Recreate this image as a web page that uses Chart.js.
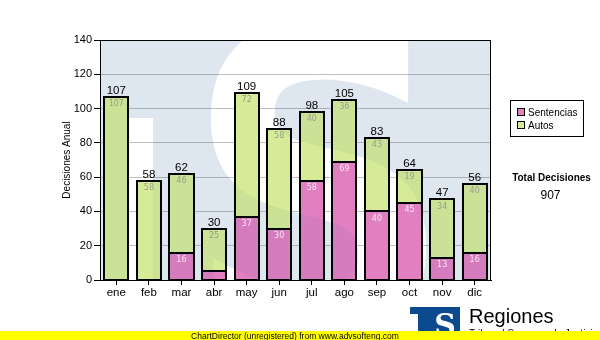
<!DOCTYPE html>
<html>
<head>
<meta charset="utf-8">
<script src="https://cdn.jsdelivr.net/npm/chart.js@4"></script>
<style>
  body { margin: 0; background: #fff; }
  #caja { position: relative; width: 600px; height: 340px; }
</style>
</head>
<body>
<div id="caja"><canvas id="grafDecisiones"></canvas></div>
<script>
// datos por mes
const meses = ['ene', 'feb', 'mar', 'abr', 'may', 'jun', 'jul', 'ago', 'sep', 'oct', 'nov', 'dic'];
const sentencias = [0, 0, 16, 5, 37, 30, 58, 69, 40, 45, 13, 16];
const autos = [107, 58, 46, 25, 72, 58, 40, 36, 43, 19, 34, 40];
const ejeMax = 140;
const ejePaso = 20;

const colSentencias = '#e080c0';
const colAutos = '#d5eb96';
const fuente = '"Liberation Sans", Arial, sans-serif';

// capa del logo: azul con la S y la franja en blanco (transparentes)
function capaLogo(w, h) {
  const off = document.createElement('canvas');
  off.width = w; off.height = h;
  const o = off.getContext('2d');
  o.fillStyle = 'rgb(10,70,140)';
  o.fillRect(0, 0, w, h);
  o.globalCompositeOperation = 'destination-out';
  o.fillRect(28, 78, 25, h);
  o.save();
  o.translate(84, 303);
  o.scale(0.86, 1);
  o.font = 'bold 435px "DejaVu Sans"';
  o.textBaseline = 'alphabetic';
  o.fillText('S', 0, 0);
  o.restore();
  return off;
}

function rectBarra(bar) {
  const x0 = Math.round(bar.x - bar.width / 2);
  const x1 = Math.round(bar.x + bar.width / 2);
  const y0 = Math.round(bar.y);
  const y1 = Math.round(bar.base);
  return [x0, y0, x1 - x0, y1 - y0];
}

const marcaAgua = {
  id: 'marcaAgua',
  beforeDatasetsDraw(chart) {
    const a = chart.chartArea;
    const ctx = chart.ctx;
    chart.$logo = capaLogo(a.right - a.left, a.bottom - a.top);
    ctx.save();
    ctx.globalAlpha = 0.135;
    ctx.drawImage(chart.$logo, a.left, a.top);
    ctx.restore();
  },
  afterDatasetsDraw(chart) {
    const ctx = chart.ctx;
    const a = chart.chartArea;
    const w = a.right - a.left, h = a.bottom - a.top;
    const metas = chart.data.datasets.map((ds, i) => chart.getDatasetMeta(i));

    // el logo se nota menos sobre las barras
    ctx.save();
    ctx.beginPath();
    metas.forEach((meta) => meta.data.forEach((bar) => ctx.rect(...rectBarra(bar))));
    ctx.clip();
    ctx.globalAlpha = 0.05;
    ctx.drawImage(chart.$logo, a.left, a.top);
    ctx.restore();

    // contorno negro de cada tramo
    ctx.save();
    ctx.strokeStyle = '#000';
    ctx.lineWidth = 2;
    metas.forEach((meta) => meta.data.forEach((bar) => {
      const r = rectBarra(bar);
      if (r[3] > 0) ctx.strokeRect(...r);
    }));
    ctx.restore();

    // valores dentro de cada tramo
    ctx.save();
    ctx.font = '8px "DejaVu Sans"';
    ctx.textAlign = 'center';
    ctx.textBaseline = 'top';
    chart.data.datasets.forEach((ds, i) => {
      metas[i].data.forEach((bar, j) => {
        if (bar.base - bar.y < 12) return;
        ctx.fillStyle = i === 0 ? '#fbe3f3' : '#9a9d8e';
        ctx.fillText(ds.data[j], bar.x, bar.y + 3);
      });
    });

    // total encima de cada barra
    ctx.font = '11.5px ' + fuente;
    ctx.fillStyle = '#000';
    ctx.textBaseline = 'alphabetic';
    const y = chart.scales.y;
    const xs = metas[0].data;
    meses.forEach((m, j) => {
      const tot = sentencias[j] + autos[j];
      ctx.fillText(tot, xs[j].x, y.getPixelForValue(tot) - 3);
    });

    // marco del area
    ctx.strokeStyle = '#000';
    ctx.lineWidth = 1;
    ctx.strokeRect(a.left + 0.5, a.top + 0.5, w - 1, h);
    ctx.restore();
  },
  afterDraw(chart) {
    const ctx = chart.ctx;
    ctx.save();

    // titulo eje Y
    ctx.save();
    ctx.translate(67, 160);
    ctx.rotate(-Math.PI / 2);
    ctx.font = '10px ' + fuente;
    ctx.fillStyle = '#000';
    ctx.textAlign = 'center';
    ctx.textBaseline = 'middle';
    ctx.fillText('Decisiones Anual', 0, 0);
    ctx.restore();

    // leyenda
    ctx.fillStyle = '#fff';
    ctx.fillRect(510.5, 100.5, 73, 36);
    ctx.strokeStyle = '#000';
    ctx.lineWidth = 1;
    ctx.strokeRect(510.5, 100.5, 73, 36);
    ctx.font = '10px ' + fuente;
    chart.data.datasets.forEach((ds, i) => {
      const yy = 108 + i * 13;
      ctx.fillStyle = ds.backgroundColor;
      ctx.fillRect(517.5, yy + 0.5, 7, 7);
      ctx.strokeRect(517.5, yy + 0.5, 7, 7);
      ctx.fillStyle = '#000';
      ctx.textAlign = 'left';
      ctx.fillText(ds.label, 528, yy + 8);
    });

    // total del año
    const total = sentencias.concat(autos).reduce((s, v) => s + v, 0);
    ctx.textAlign = 'center';
    ctx.font = 'bold 10px ' + fuente;
    ctx.fillText('Total Decisiones', 551.5, 181);
    ctx.font = '12px ' + fuente;
    ctx.fillText(total, 550.5, 199);

    // logo inferior
    ctx.fillStyle = '#0b4a8f';
    ctx.fillRect(410, 307, 50, 7);
    ctx.fillRect(418, 314, 42, 20);
    ctx.fillStyle = '#fff';
    ctx.font = 'bold 30px "DejaVu Serif"';
    ctx.fillText('S', 445, 335);
    ctx.textAlign = 'left';
    ctx.fillStyle = '#000';
    ctx.font = '20px ' + fuente;
    ctx.fillText('Regiones', 469, 323);
    ctx.font = '10px ' + fuente;
    ctx.fillText('Tribunal Supremo de Justicia', 469, 337);

    // franja amarilla
    ctx.fillStyle = '#ffff00';
    ctx.fillRect(0, 331, 600, 9);
    ctx.fillStyle = '#000';
    ctx.textAlign = 'center';
    ctx.font = '8.5px ' + fuente;
    ctx.fillText('ChartDirector (unregistered) from www.advsofteng.com', 295, 339);
    ctx.restore();
  }
};

const config = {
  type: 'bar',
  data: {
    labels: meses,
    datasets: [
      {
        label: 'Sentencias',
        data: sentencias,
        backgroundColor: colSentencias,
        borderWidth: 0
      },
      {
        label: 'Autos',
        data: autos,
        backgroundColor: colAutos,
        borderWidth: 0
      }
    ]
  },
  options: {
    responsive: true,
    maintainAspectRatio: false,
    animation: false,
    layout: { padding: { left: 0, right: 109, top: 40, bottom: 40 } },
    datasets: { bar: { categoryPercentage: 1, barPercentage: 0.74 } },
    plugins: { legend: { display: false }, tooltip: { enabled: false } },
    scales: {
      x: {
        stacked: true,
        afterFit: (s) => { s.height = 20; },
        grid: { drawOnChartArea: false, offset: false, tickLength: 5, tickColor: '#000' },
        border: { color: '#000' },
        ticks: { color: '#000', padding: 1, font: { family: fuente, size: 11.5 } }
      },
      y: {
        stacked: true,
        min: 0,
        max: ejeMax,
        afterFit: (s) => { s.width = 100; },
        grid: { color: '#c0c0c0', tickLength: 6, tickColor: '#000' },
        border: { color: '#000' },
        ticks: { stepSize: ejePaso, color: '#000', padding: 2, font: { family: fuente, size: 11 } }
      }
    }
  },
  plugins: [marcaAgua]
};

new Chart(document.getElementById('grafDecisiones'), config);
</script>
</body>
</html>
